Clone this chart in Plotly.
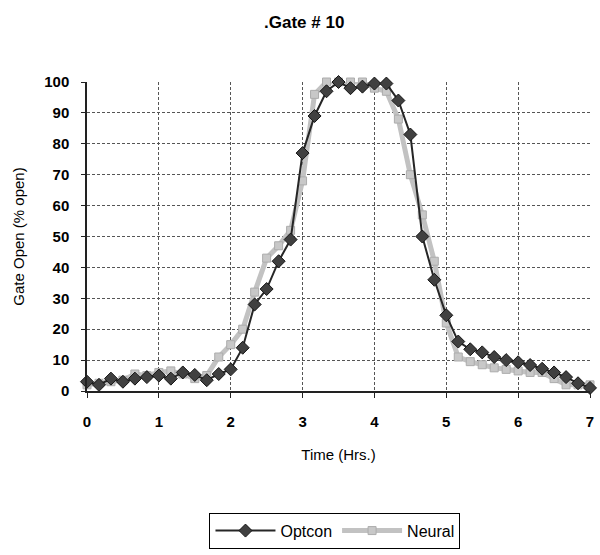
import plotly.graph_objects as go

# time in hours: 10-minute steps from 0 to 7
steps = list(range(43))
time_hrs = [k / 6 for k in steps]

optcon = [3, 2, 4, 3, 4, 4.5, 5, 4, 6, 5.2, 3.5, 5.5, 7, 14, 28, 33, 42, 49, 77, 89, 97,
          100, 98, 98.5, 99.5, 99.5, 94, 83, 50, 36, 24.5, 16, 13.5, 12.5, 11, 10, 9.3,
          8.4, 7.2, 6, 4.5, 2.5, 1]
neural = [2, 2.5, 3, 3.5, 5.5, 5, 6, 6.5, 5.5, 4, 5, 11, 15, 20, 32, 43, 47, 52, 68, 96, 100,
          100, 100, 100, 98, 97, 88, 70, 57, 42, 22, 11, 9.5, 8.5, 7.5, 7, 6.5,
          6, 6, 4, 2, 2, 2]

x_ticks = [0, 1, 2, 3, 4, 5, 6, 7]
y_ticks = [0, 10, 20, 30, 40, 50, 60, 70, 80, 90, 100]

fig = go.Figure()
fig.add_trace(go.Scatter(
    x=time_hrs, y=neural, name="Neural", mode="lines+markers",
    line=dict(color="#c2c2c2", width=5),
    marker=dict(symbol="square", size=8, color="#c8c8c8", line=dict(color="#acacac", width=1)),
    cliponaxis=False, legendrank=2,
))
fig.add_trace(go.Scatter(
    x=time_hrs, y=optcon, name="Optcon", mode="lines+markers",
    line=dict(color="#262626", width=2),
    marker=dict(symbol="diamond", size=10, color="#404040", line=dict(color="#151515", width=1)),
    cliponaxis=False, legendrank=1,
))

font_family = "Liberation Sans, Arial, sans-serif"
fig.update_layout(
    width=600, height=555,
    margin=dict(l=87, r=6, t=82, b=163),
    paper_bgcolor="white", plot_bgcolor="white",
    font=dict(family=font_family, size=14, color="black"),
    title=dict(text="<b>.Gate # 10</b>", x=0.507, xanchor="center", y=1 - 22 / 555,
               yanchor="middle", font=dict(size=17)),
    showlegend=True,
    legend=dict(orientation="h", x=0.493, xanchor="center", y=-0.452, yanchor="middle",
                bordercolor="black", borderwidth=1, font=dict(size=16),
                itemwidth=60, traceorder="normal"),
    xaxis=dict(
        range=[0, 7], tickvals=x_ticks, ticktext=[f"<b>{v}</b>" for v in x_ticks],
        tickfont=dict(size=15),
        showgrid=True, gridcolor="#555555", griddash="3px,2px", gridwidth=1,
        showline=True, linecolor="#222222", linewidth=1.5,
        ticks="outside", ticklen=5, tickcolor="#222222", ticklabelstandoff=11,
        zeroline=False,
        title=dict(text="Time (Hrs.)", standoff=21, font=dict(size=15)),
    ),
    yaxis=dict(
        range=[0, 100], tickvals=y_ticks, ticktext=[f"<b>{v}</b>" for v in y_ticks],
        tickfont=dict(size=15),
        showgrid=True, gridcolor="#555555", griddash="3px,2px", gridwidth=1,
        showline=True, linecolor="#222222", linewidth=1.5,
        ticks="outside", ticklen=4, tickcolor="#222222", ticklabelstandoff=9,
        zeroline=False,
        title=dict(text="Gate Open (% open)", standoff=16, font=dict(size=15)),
    ),
)

fig.write_html("out.html")
